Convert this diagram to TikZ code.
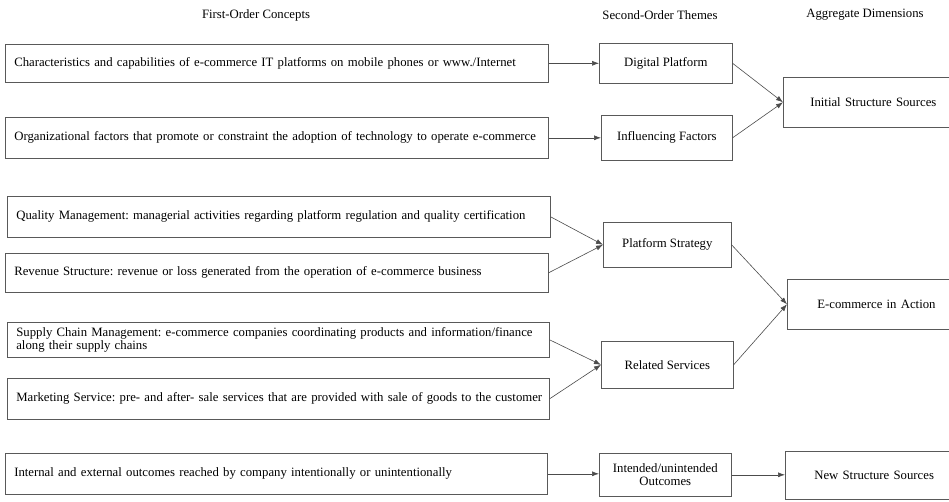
\documentclass[tikz,border=0pt]{standalone}
\usepackage{fontspec}
\setmainfont{Liberation Serif}
\usetikzlibrary{arrows.meta}
\frenchspacing
\begin{document}
\begin{tikzpicture}[x=1pt,y=-1pt,
  every node/.style={font=\fontsize{12.75}{13}\selectfont, text=black},
  hdr/.style={inner sep=0pt},
  cbox/.style={draw=black!65, line width=0.6pt, anchor=north west, inner xsep=9pt, inner ysep=0pt, align=left},
  tbox/.style={draw=black!65, line width=0.6pt, anchor=north west, inner sep=0pt, align=center},
  arr/.style={draw=black!70, line width=0.6pt, -{Latex[length=7pt,width=5pt]}}
]
\useasboundingbox (0,0) rectangle (949,501);
\fill[white] (0,0) rectangle (949,501);
\begin{scope}
\clip (0,0) rectangle (949,501);
% headers
\node[hdr] (h1) at (256,15) {First-Order Concepts};
\node[hdr] (h2) at (660,15) {Second-Order Themes};
\node[hdr] (h3) at (865,15) {Aggregate Dimensions};

% first-order concepts
\node[cbox, minimum width=543pt, minimum height=38pt, text width=525pt] (c1) at (5,44) {\frenchspacing\mbox{Characteristics and capabilities of e-commerce IT platforms on mobile phones or www./Internet}};
\node[cbox, minimum width=543pt, minimum height=41pt, text width=525pt] (c2) at (5,117) {\frenchspacing\mbox{Organizational factors that promote or constraint the adoption of technology to operate e-commerce}};
\node[cbox, minimum width=543pt, minimum height=41pt, text width=525pt] (c3) at (7,196) {\frenchspacing\mbox{Quality Management: managerial activities regarding platform regulation and quality certification}};
\node[cbox, minimum width=543pt, minimum height=39pt, text width=525pt] (c4) at (5,253) {\frenchspacing\mbox{Revenue Structure: revenue or loss generated from the operation of e-commerce business}};
\node[cbox, minimum width=542pt, minimum height=35pt, text width=524pt, font=\fontsize{12.75}{10.5}\selectfont] (c5) at (7,322) {\frenchspacing\mbox{Supply Chain Management: e-commerce companies coordinating products and information/finance}\\along their supply chains};
\node[cbox, minimum width=542pt, minimum height=41pt, text width=524pt] (c6) at (7,378) {\frenchspacing\mbox{Marketing Service: pre- and after- sale services that are provided with sale of goods to the customer}};
\node[cbox, minimum width=542pt, minimum height=41pt, text width=524pt] (c7) at (5,453) {\frenchspacing\mbox{Internal and external outcomes reached by company intentionally or unintentionally}};

% second-order themes
\node[tbox, minimum width=133pt, minimum height=40pt] (t1) at (599,43) {Digital Platform};
\node[tbox, minimum width=131pt, minimum height=45pt] (t2) at (601,115) {Influencing Factors};
\node[tbox, minimum width=128pt, minimum height=45pt] (t3) at (603,222) {Platform Strategy};
\node[tbox, minimum width=132pt, minimum height=47pt] (t4) at (601,341) {Related Services};
\node[tbox, minimum width=132pt, minimum height=43pt, font=\fontsize{12.75}{12.5}\selectfont] (t5) at (599,453) {Intended/unintended\\Outcomes};

% aggregate dimensions
\node[tbox, minimum width=180pt, minimum height=50pt, text width=166pt, align=left] (a1) at (783,77) {\hspace*{20pt}Initial Structure Sources};
\node[tbox, minimum width=176pt, minimum height=50pt, text width=162pt, align=left] (a2) at (787,279) {\hspace*{23pt}E-commerce in Action};
\node[tbox, minimum width=178pt, minimum height=48pt, text width=164pt, align=left] (a3) at (785,451) {\hspace*{22pt}New Structure Sources};
\end{scope}

% connectors
\draw[arr] (c1.east) -- (t1.west);
\draw[arr] (c2.east) -- (t2.west);
\draw[arr] (c3.east) -- (t3.west);
\draw[arr] (c4.east) -- (t3.west);
\draw[arr] (c5.east) -- (t4.west);
\draw[arr] (c6.east) -- (t4.west);
\draw[arr] (c7.east) -- (t5.west |- c7.east);
\draw[arr] (t1.east) -- (a1.west);
\draw[arr] (t2.east) -- (a1.west);
\draw[arr] (t3.east) -- (a2.west);
\draw[arr] (t4.east) -- (a2.west);
\draw[arr] (t5.east) -- (a3.west |- t5.east);
\end{tikzpicture}
\end{document}
